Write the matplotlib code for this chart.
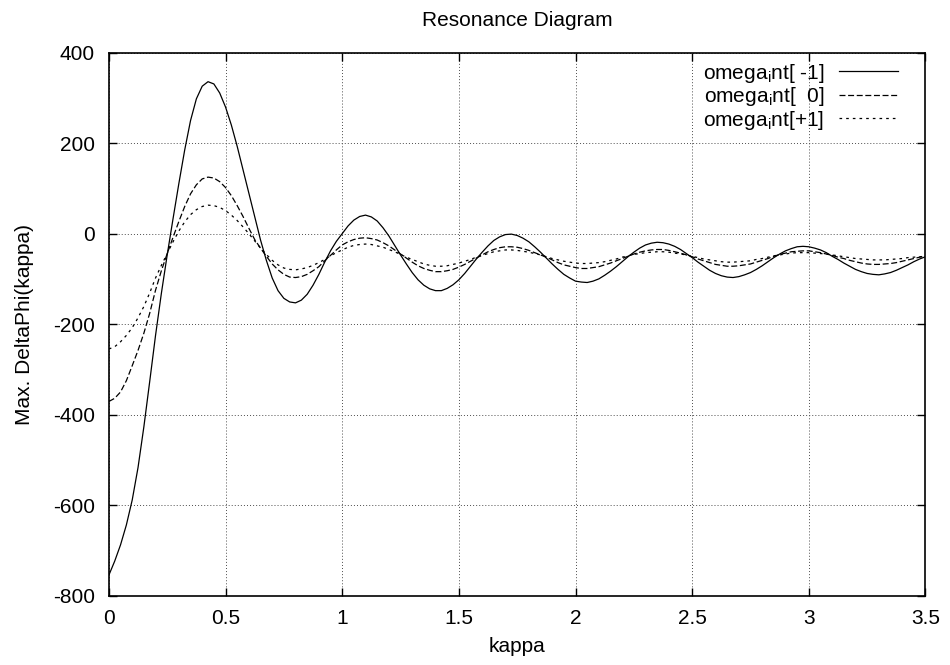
import numpy as np
import matplotlib
matplotlib.use("Agg")
import matplotlib.pyplot as plt
from matplotlib.ticker import FormatStrFormatter, MultipleLocator

plt.rcParams['font.family'] = ['Liberation Sans', 'DejaVu Sans']
plt.rcParams['font.size'] = 15
plt.rcParams['axes.unicode_minus'] = False
plt.rcParams['lines.scale_dashes'] = False

# kappa grid (step 0.025) and max. DeltaPhi for the three omega_int values
kappa = np.linspace(0, 3.5, 141)

phi_minus1 = [
    -755, -724, -688, -644, -589, -517, -427, -327,   # 0.0
    -225, -132, -47, 33, 111, 185, 250, 298,          # 0.2
    326, 336, 331, 311, 280, 240, 193, 141,           # 0.4
    88, 36, -14, -59, -98, -126, -143, -151,          # 0.6
    -153, -147, -134, -114, -90, -63, -38, -17,       # 0.8
    0, 17, 30, 38, 41, 37, 28, 13,                    # 1.0
    -5, -26, -47, -67, -86, -102, -114, -122,         # 1.2
    -126, -126, -121, -113, -102, -88, -72, -56,      # 1.4
    -41, -27, -15, -7, -2, -1, -4, -10,               # 1.6
    -18, -29, -41, -54, -67, -79, -90, -98,           # 1.8
    -105, -107, -108, -105, -100, -92, -83, -73,      # 2.0
    -62, -51, -41, -32, -25, -21, -19, -20,           # 2.2
    -23, -28, -35, -44, -53, -63, -72, -81,           # 2.4
    -88, -93, -96, -97, -95, -91, -86, -79,           # 2.6
    -71, -62, -53, -45, -38, -33, -29, -28,           # 2.8
    -29, -32, -36, -42, -50, -57, -65, -72,           # 3.0
    -79, -84, -88, -90, -91, -89, -86, -81,           # 3.2
    -75, -69, -62, -56, -51]                          # 3.4

phi_zero = [
    -371, -364, -350, -325, -292, -258, -220, -176,   # 0.0
    -125, -82, -44, -8, 27, 60, 88, 108,              # 0.2
    121, 125, 123, 115, 102, 84, 62, 38,              # 0.4
    12, -13, -32, -50, -67, -80, -90, -96,            # 0.6
    -97, -95, -90, -82, -73, -60, -48, -36,           # 0.8
    -25, -18, -13, -10, -9, -11, -14, -20,            # 1.0
    -27, -36, -45, -54, -63, -71, -77, -81,           # 1.2
    -84, -84, -82, -79, -74, -68, -61, -54,           # 1.4
    -47, -40, -35, -31, -29, -29, -30, -33,           # 1.6
    -37, -42, -47, -52, -58, -64, -69, -72,           # 1.8
    -75, -77, -77, -75, -73, -69, -65, -60,           # 2.0
    -55, -50, -45, -41, -38, -36, -35, -35,           # 2.2
    -37, -40, -43, -47, -51, -56, -60, -64,           # 2.4
    -68, -70, -72, -72, -71, -69, -67, -63,           # 2.6
    -59, -55, -50, -46, -43, -40, -39, -38,           # 2.8
    -38, -40, -42, -45, -48, -52, -55, -59,           # 3.0
    -62, -65, -67, -68, -68, -67, -66, -64,           # 3.2
    -61, -58, -55, -52, -50]                          # 3.4

phi_plus1 = [
    -255, -250, -239, -225, -208, -186, -161, -131,   # 0.0
    -98, -70, -44, -18, 6, 26, 42, 53,                # 0.2
    60, 63, 62, 58, 51, 41, 29, 15,                   # 0.4
    0, -16, -32, -46, -59, -69, -76, -79,             # 0.6
    -80, -78, -75, -70, -64, -57, -49, -42,           # 0.8
    -36, -30, -26, -24, -23, -24, -27, -30,           # 1.0
    -35, -40, -46, -52, -57, -62, -67, -70,           # 1.2
    -72, -72, -71, -68, -65, -61, -57, -52,           # 1.4
    -48, -44, -40, -38, -36, -36, -37, -39,           # 1.6
    -41, -44, -47, -51, -55, -58, -61, -63,           # 1.8
    -65, -66, -66, -65, -64, -62, -59, -56,           # 2.0
    -52, -49, -46, -44, -42, -41, -40, -40,           # 2.2
    -41, -43, -45, -47, -50, -53, -56, -58,           # 2.4
    -60, -62, -63, -63, -62, -61, -60, -57,           # 2.6
    -55, -52, -49, -47, -45, -43, -42, -42,           # 2.8
    -42, -43, -44, -45, -47, -49, -51, -53,           # 3.0
    -55, -56, -57, -58, -58, -58, -57, -56,           # 3.2
    -55, -53, -52, -51, -50]                          # 3.4

labels = [r'omega$_\mathregular{i}$nt[ -1]',
          r'omega$_\mathregular{i}$nt[  0]',
          r'omega$_\mathregular{i}$nt[+1]']

fig = plt.figure(figsize=(9.5, 6.65), dpi=100)
ax = fig.add_axes([0.1146, 0.1045, 0.8596, 0.8162])

ax.plot(kappa, phi_minus1, color='black', lw=0.9, label=labels[0])
ax.plot(kappa, phi_zero, color='black', lw=0.9, dashes=(4.3, 1.9), label=labels[1])
ax.plot(kappa, phi_plus1, color='black', lw=0.9, dashes=(1.9, 2.9), label=labels[2])

ax.set_xlim(0, 3.5)
ax.set_ylim(-800, 400)
ax.xaxis.set_major_locator(MultipleLocator(0.5))
ax.yaxis.set_major_locator(MultipleLocator(200))
ax.xaxis.set_major_formatter(FormatStrFormatter('%g'))
ax.yaxis.set_major_formatter(FormatStrFormatter('%g'))

ax.grid(True, color='0.3', lw=0.7, dashes=(0.7, 1.5))
ax.set_axisbelow(True)
ax.tick_params(direction='in', top=True, right=True, length=6, width=1,
               labelsize=15)
ax.tick_params(axis='x', pad=10)
ax.tick_params(axis='y', pad=10)
for s in ax.spines.values():
    s.set_linewidth(1.2)

ax.set_xlabel('kappa', fontsize=15)
ax.xaxis.set_label_coords(0.5, -0.0765)
ax.set_ylabel('Max. DeltaPhi(kappa)', fontsize=15)
ax.yaxis.set_label_coords(-0.092, 0.5)

fig.text(0.5447, 1 - 21 / 665, 'Resonance Diagram', ha='center', va='center',
         fontsize=15)

ax.legend(loc='upper right', bbox_to_anchor=(0.9663, 0.9834), frameon=False,
          markerfirst=False, handlelength=2.85, handletextpad=0.68,
          borderpad=0, borderaxespad=0, labelspacing=0.02, fontsize=15)

fig.savefig('out.png', dpi=100)
